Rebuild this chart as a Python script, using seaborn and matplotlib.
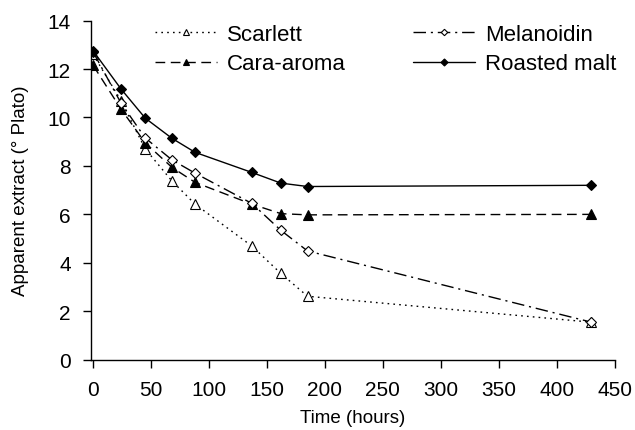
import matplotlib
matplotlib.use("Agg")
import matplotlib.pyplot as plt
import seaborn as sns
import pandas as pd

time_h = [0, 24, 45, 68, 88, 137, 162, 185, 430]
scarlett = [12.6, 10.7, 8.7, 7.38, 6.42, 4.69, 3.56, 2.62, 1.55]
melanoidin = [12.7, 10.6, 9.15, 8.25, 7.7, 6.45, 5.34, 4.49, 1.55]
cara_aroma = [12.15, 10.35, 8.95, 7.94, 7.32, 6.42, 6.03, 5.98, 6.0]
roasted = [12.75, 11.18, 9.97, 9.14, 8.56, 7.73, 7.29, 7.15, 7.2]

series = {"Scarlett": scarlett, "Melanoidin": melanoidin,
          "Cara-aroma": cara_aroma, "Roasted malt": roasted}
rows = []
for name, vals in series.items():
    for t, v in zip(time_h, vals):
        rows.append({"Time": t, "Extract": v, "Malt": name})
df = pd.DataFrame(rows)

sns.set_style("ticks")
plt.rcParams["font.family"] = ["Liberation Sans", "DejaVu Sans"]
plt.rcParams["text.color"] = "black"
plt.rcParams["axes.labelcolor"] = "black"
plt.rcParams["xtick.color"] = "black"
plt.rcParams["ytick.color"] = "black"

fig, ax = plt.subplots(figsize=(6.35, 4.31), dpi=100)
fig.subplots_adjust(left=0.143, right=0.968, top=0.95, bottom=0.163)

styles = {
    "Scarlett": dict(ls=(0, (1.2, 3)), marker="^", mfc="white", ms=6.5),
    "Cara-aroma": dict(ls=(0, (7, 4)), marker="^", mfc="black", ms=7),
    "Melanoidin": dict(ls=(0, (9, 3.5, 1.5, 3.5)), marker="D", mfc="white", ms=5),
    "Roasted malt": dict(ls="-", marker="D", mfc="black", ms=5.5),
}
order = ["Scarlett", "Cara-aroma", "Melanoidin", "Roasted malt"]
for name in order:
    st = styles[name]
    sns.lineplot(data=df[df["Malt"] == name], x="Time", y="Extract", ax=ax,
                 color="black", linewidth=1.0, linestyle=st["ls"],
                 marker=st["marker"], markersize=st["ms"],
                 markerfacecolor=st["mfc"], markeredgecolor="black",
                 markeredgewidth=0.8, label=name, sort=False)

h, l = ax.get_legend_handles_labels()
if ax.get_legend() is not None:
    ax.get_legend().remove()

ax.set_xlim(-2, 450)
ax.set_ylim(0, 14)
ax.set_xticks(range(0, 451, 50))
ax.set_yticks(range(0, 15, 2))
ax.set_xlabel("Time (hours)", fontsize=13.5, labelpad=7, color="black")
ax.set_ylabel("Apparent extract (\u00b0 Plato)", fontsize=13.5, labelpad=13,
              color="black")
ax.tick_params(labelsize=15, direction="out", length=5.5, width=1,
               color="black", labelcolor="black", pad=9)
sns.despine(ax=ax)
for s in ["left", "bottom"]:
    ax.spines[s].set_color("black")
    ax.spines[s].set_linewidth(1)

idx = [l.index(n) for n in ["Scarlett", "Cara-aroma", "Melanoidin", "Roasted malt"]]
fig.legend([h[i] for i in idx], [l[i] for i in idx], ncol=2, frameon=False,
           fontsize=16, loc="upper left", bbox_to_anchor=(0.244, 0.943),
           borderpad=0, borderaxespad=0, markerscale=0.65,
           handlelength=2.8, columnspacing=3.0, labelspacing=0.4,
           handletextpad=0.45, labelcolor="black")

fig.savefig("out.png", dpi=100)
